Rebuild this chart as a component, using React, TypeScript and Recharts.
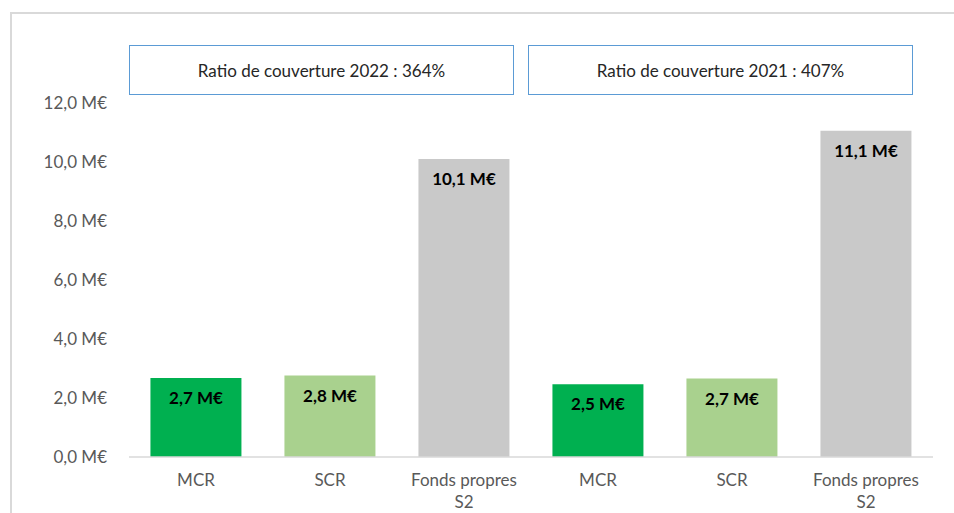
import React from 'react'
import { BarChart, Bar, XAxis, YAxis, Cell, LabelList } from 'recharts'

const categories = ['MCR', 'SCR', 'Fonds propres S2', 'MCR', 'SCR', 'Fonds propres S2']
const values = [2.68, 2.76, 10.1, 2.47, 2.66, 11.06]
const valueLabels = ['2,7 M€', '2,8 M€', '10,1 M€', '2,5 M€', '2,7 M€', '11,1 M€']
const barColors = ['#00B050', '#A9D18E', '#C9C9C9', '#00B050', '#A9D18E', '#C9C9C9']
const yTicks = [0, 2, 4, 6, 8, 10, 12]
const ratioLabels = ['Ratio de couverture 2022 : 364%', 'Ratio de couverture 2021 : 407%']

const data = categories.map((c, i) => ({ key: `${c}-${i}`, name: c, value: values[i], label: valueLabels[i] }))

const FONT = 'Lato, "Open Sans", sans-serif'

const fmtY = (v: number) => `${v.toFixed(1).replace('.', ',')} M€`

// "Fonds propres S2" goes on two lines, like the original
function CategoryTick(props: any) {
  const { x, y, payload } = props
  const name = categories[payload.index] ?? payload.value
  const words = name.split(' ')
  const lines = words.length > 2 ? [words.slice(0, 2).join(' '), words.slice(2).join(' ')] : [name]
  return (
    <text x={x} y={y + 21} textAnchor="middle" fill="#595959" fontSize={17} fontFamily={FONT}>
      {lines.map((l: string, i: number) => (
        <tspan key={i} x={x} dy={i === 0 ? 0 : 22}>{l}</tspan>
      ))}
    </text>
  )
}

export default function App() {
  return (
    <div style={{ position: 'absolute', left: 0, top: 0, width: 954, height: 513, overflow: 'hidden', background: '#fff' }}>
      {/* chart frame: only its top and left edges are inside the picture */}
      <div style={{ position: 'absolute', left: 10, top: 12, width: 944, height: 2, background: '#D9D9D9' }} />
      <div style={{ position: 'absolute', left: 10, top: 12, width: 2, height: 501, background: '#D9D9D9' }} />
      {ratioLabels.map((t, i) => (
        <div
          key={t}
          style={{
            position: 'absolute',
            left: i === 0 ? 129 : 528,
            top: 45,
            width: 385,
            height: 50,
            border: '1.5px solid #5B9BD5',
            boxSizing: 'border-box',
            display: 'flex',
            alignItems: 'center',
            justifyContent: 'center',
            fontFamily: FONT,
            fontSize: 17,
            color: '#262626',
          }}
        >
          {t}
        </div>
      ))}
      <div style={{ position: 'absolute', left: 0, top: 0 }}>
        <BarChart width={954} height={513} data={data} margin={{ top: 103, right: 21, bottom: 0, left: 0 }} barCategoryGap="16%">
          <XAxis
            dataKey="key"
            height={56}
            tickLine={false}
            axisLine={{ stroke: '#D9D9D9', strokeWidth: 1.5 }}
            tick={<CategoryTick />}
            interval={0}
          />
          <YAxis
            width={129}
            domain={[0, 12]}
            ticks={yTicks}
            tickFormatter={fmtY}
            axisLine={false}
            tickLine={false}
            tick={{ fill: '#595959', fontSize: 17, fontFamily: FONT }}
            tickMargin={16}
          />
          <Bar dataKey="value" isAnimationActive={false}>
            {data.map((d, i) => (
              <Cell key={d.key} fill={barColors[i]} />
            ))}
            <LabelList
              dataKey="label"
              position="insideTop"
              offset={14}
              fill="#000"
              fontSize={17}
              fontWeight="bold"
              fontFamily={FONT}
            />
          </Bar>
        </BarChart>
      </div>
    </div>
  )
}
